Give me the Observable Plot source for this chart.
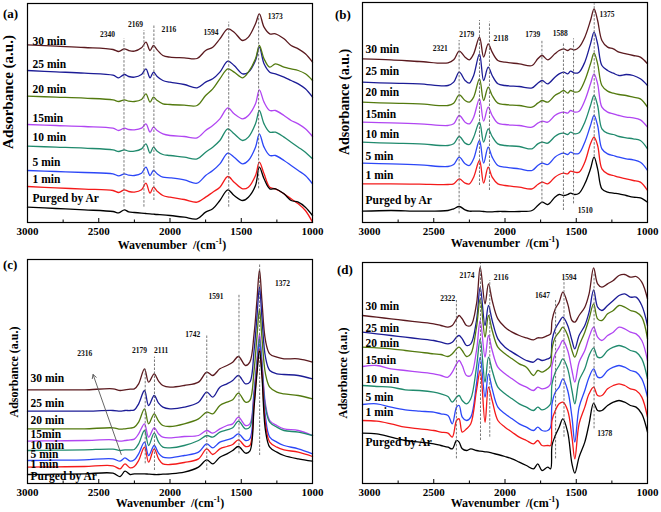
<!DOCTYPE html>
<html><head><meta charset="utf-8">
<script src="https://cdn.jsdelivr.net/npm/d3@7"></script>
<script src="https://cdn.jsdelivr.net/npm/@observablehq/plot@0.6"></script>
<style>
body{margin:0;background:#fff;}
#fig{position:relative;width:661px;height:512px;background:#fff;overflow:hidden;}
#fig svg{position:absolute;}
</style></head><body><div id="fig"></div>
<script>
const seriesNames = ["30 min","25 min","20 min","15min","10 min","5 min","1 min","Purged by Ar"];
const seriesColors = ["#5b1a1f","#1c1c96","#537a0f","#b146f2","#208a6d","#2c47f7","#f41a1a","#000000"];
const xTicksMajor = [3000,2500,2000,1500,1000];
const xTicksMinor = [2750,2250,1750,1250];

// ---- panel (a)
const wnA = [3000,2800,2600,2400,2360,2320,2290,2250,2200,2169,2140,2116,2090,2050,2000,1900,1810,1750,1700,1650,1594,1550,1490,1450,1400,1373,1340,1300,1260,1200,1150,1100,1050,1000];
const a30 = [533,529,525,519,513,521,516,514,524,541,516,531,518,501,496,494,492,516,526,551,581,571,546,556,596,626,586,566,566,551,531,521,506,481];
const a25 = [456,452,448,442,434,444,438,436,444,461,434,451,438,426,421,414,404,421,431,451,484,471,446,451,486,526,476,451,446,436,426,416,401,376];
const a20 = [379,376,373,368,363,368,364,363,369,386,361,376,366,356,354,352,351,381,401,431,461,451,434,451,491,531,491,466,476,466,461,456,446,426];
const a15 = [294,291,288,283,276,283,279,278,283,296,271,286,276,266,261,258,254,276,291,311,344,326,311,321,356,398,361,336,336,321,306,296,281,258];
const a10 = [229,226,223,218,213,218,214,214,221,236,208,226,214,204,201,196,191,211,226,246,281,266,246,256,296,336,296,271,271,256,241,226,211,191];
const a5  = [156,153,150,146,140,146,142,141,148,166,141,156,146,136,134,128,118,141,156,176,208,196,176,186,226,266,226,201,201,186,171,156,141,116];
const a1  = [108,104,100,96,90,98,93,91,98,118,88,106,94,81,76,69,61,76,91,106,138,121,101,106,141,181,146,106,101,86,71,56,36,1];
const a0  = [46,42,38,33,29,38,32,30,28,27,26,25,24,23,21,16,11,31,41,66,98,81,66,76,111,166,131,101,101,86,66,61,46,21];
const linesA = [2323,2183,2113,1588,1378];
const linesATop = [551,576,591,601,621];
const linesABot = [46,46,66,46,101];
const peakTextA = ["2340","2169","2116","1594","1373"];

// ---- panel (b)
const wnB = [3000,2800,2600,2400,2360,2321,2280,2250,2220,2179,2150,2118,2090,2050,2000,1900,1810,1770,1739,1700,1650,1620,1588,1560,1540,1510,1480,1440,1400,1375,1350,1320,1280,1240,1200,1150,1100,1050,1000];
const b30 = [491,488,483,479,488,514,496,488,506,556,496,536,511,486,481,476,471,491,501,488,506,516,521,516,521,518,526,556,606,641,606,546,526,521,511,506,501,496,476];
const b25 = [421,418,416,411,421,451,426,418,441,506,426,466,441,416,411,408,404,418,426,416,436,446,451,446,454,448,451,481,536,571,536,471,456,448,441,444,441,431,411];
const b20 = [361,358,356,351,358,383,366,361,376,431,366,406,381,358,354,351,346,358,366,361,381,388,396,388,396,391,394,426,476,508,476,411,394,388,384,381,376,371,346];
const b15 = [301,299,296,291,296,321,301,296,316,371,304,346,321,298,294,291,286,298,304,301,321,328,331,328,336,331,334,366,416,446,416,346,331,326,321,316,314,308,286];
const b10 = [241,238,236,231,236,258,238,234,256,301,241,281,258,236,231,228,221,236,241,238,258,266,268,264,271,266,269,301,351,381,351,281,268,264,258,254,251,246,221];
const b5  = [178,176,173,168,174,196,176,171,191,246,178,226,196,171,166,161,156,171,178,174,196,204,208,204,211,206,208,241,291,321,291,221,206,201,196,191,188,181,156];
const b1  = [116,116,115,114,116,131,118,116,136,186,118,166,136,116,111,106,101,114,121,116,136,144,148,146,154,151,151,181,236,256,231,161,146,141,136,131,126,121,96];
const b0  = [34,36,34,36,41,48,38,34,34,34,33,32,32,33,33,33,36,51,61,54,76,84,81,84,88,84,88,116,161,196,161,101,91,88,86,81,76,74,61];
const linesB = [2322,2179,2109,1741,1590,1519,1374];
const linesBTop = [546,606,601,546,536,551,656];
const linesBBot = [26,111,96,56,36,56,196];
const peakTextB = ["2321","2179","2118","1739","1588","1375","1510"];

// ---- panel (c)
const wnC = [3000,2800,2600,2400,2350,2316,2280,2250,2220,2179,2150,2111,2080,2050,2000,1900,1800,1742,1700,1650,1600,1560,1520,1470,1440,1410,1390,1372,1355,1330,1300,1250,1200,1100,1000];
const c30 = [281,281,281,284,279,281,283,284,299,344,304,329,307,294,289,294,304,334,324,344,354,364,381,354,364,449,549,641,549,429,389,379,374,374,364];
const c25 = [217,217,217,219,217,219,219,221,239,279,234,264,241,229,224,229,244,274,259,289,299,309,324,299,304,399,499,589,499,379,339,329,327,324,314];
const c20 = [164,164,164,167,163,164,166,169,184,224,179,209,187,174,171,179,194,214,209,234,244,251,271,244,249,339,439,524,439,329,289,274,269,264,254];
const c15 = [127,128,129,131,127,129,131,133,149,179,139,167,149,139,137,141,144,159,151,164,174,179,199,174,179,279,369,449,369,239,189,174,164,159,144];
const c10 = [99,100,101,103,99,101,101,102,119,159,114,151,124,109,107,114,129,144,139,154,161,167,187,164,169,269,359,434,359,229,184,169,159,154,144];
const c5  = [69,70,71,74,67,77,67,71,89,124,84,114,91,79,77,84,94,119,107,124,131,137,149,129,134,259,349,419,349,199,139,124,114,104,89];
const c1  = [49,50,51,53,44,59,47,51,69,109,64,104,74,59,57,63,74,104,87,104,111,117,131,111,114,239,339,404,334,179,124,109,101,94,81];
const c0  = [27,28,29,31,21,37,27,29,29,29,28,27,27,28,29,34,49,71,59,79,89,99,111,91,97,229,329,399,324,159,109,94,84,74,67];
const linesC = [2174,2109,1742,1516,1371];
const linesCTop = [344,379,444,569,659];
const linesCBot = [59,39,39,89,84];
const peakTextC = ["2316","2179","2111","1742","1591","1372"];

// ---- panel (d)
const wnD = [3000,2900,2800,2700,2600,2500,2450,2400,2370,2340,2322,2300,2270,2240,2200,2174,2140,2116,2090,2050,2000,1950,1900,1850,1800,1770,1740,1700,1680,1670,1647,1620,1594,1560,1530,1510,1480,1440,1410,1378,1350,1320,1280,1240,1200,1160,1120,1080,1040,1000];
const d30 = [504,499,494,489,484,479,474,469,474,494,504,494,474,474,539,649,539,599,549,494,469,454,444,437,431,437,437,444,449,489,524,544,574,539,489,484,504,529,569,647,599,589,599,609,624,627,619,621,604,554];
const d25 = [454,449,444,439,434,429,424,419,424,439,444,434,414,419,489,589,474,534,489,434,409,394,381,369,364,374,369,374,379,429,464,484,499,474,429,404,444,474,514,581,529,519,534,549,564,569,559,559,534,474];
const d20 = [409,407,404,399,394,389,387,381,389,404,409,399,381,389,469,554,439,504,459,409,389,374,359,349,324,339,334,344,354,404,439,454,469,444,399,379,414,454,494,539,494,489,509,519,534,529,519,514,499,434];
const d15 = [351,354,344,339,334,329,324,319,334,359,369,354,324,324,399,489,379,444,399,349,329,314,299,289,279,289,284,289,299,354,389,409,429,399,339,304,364,399,439,469,439,429,444,454,469,464,454,449,429,369];
const d10 = [294,291,289,281,279,274,269,261,244,259,264,249,239,254,349,434,304,379,339,289,269,254,239,229,219,229,221,229,239,299,334,354,374,344,279,239,309,344,384,407,379,379,399,409,414,409,399,394,374,314];
const d5  = [237,239,229,221,217,214,209,204,179,229,234,199,189,199,299,379,259,329,284,229,209,194,179,169,159,169,159,159,169,239,274,289,314,279,199,124,229,279,319,344,319,319,339,349,354,349,339,334,314,259];
const d1  = [189,187,179,169,164,159,154,151,139,189,194,154,164,179,279,339,184,289,249,189,169,154,139,129,119,129,114,114,114,189,219,239,244,219,139,74,179,229,269,289,264,264,284,294,299,294,284,279,259,199];
const d0  = [151,149,139,129,124,119,114,109,104,129,124,104,99,104,99,97,95,94,91,87,81,74,64,54,44,59,39,49,44,114,144,169,194,154,59,31,79,124,179,241,219,219,234,244,249,244,234,229,209,154];
const linesD = [2341,2172,2107,1645,1586,1375];
const linesDTop = [549,659,609,549,609,629];
const linesDBot = [74,129,139,74,139,164];
const peakTextD = ["2322","2174","2116","1647","1594","1378"];

const SERIF = "'Liberation Serif','Times New Roman',serif";

const panels = [
  {id:"(a)", grid:wnA, series:[a30,a25,a20,a15,a10,a5,a1,a0], lines:linesA, lTop:linesATop, lBot:linesABot,
   ptext:peakTextA, plx:[2438,2242,2008,1712,1261], ply:[564,594,578,571,618],
   left:0, top:0, width:330, height:252, ml:27, mr:18, mt:3, mb:30, yMax:657,
   labelDy:[-4,-6,-7,-6,-9,-8,-7,-9], labelDx:5, firstTickDx:0,
   letter:[3,18], ytitle:[8,92,15], xtitle:[172,249]},
  {id:"(b)", grid:wnB, series:[b30,b25,b20,b15,b10,b5,b1,b0], lines:linesB, lTop:linesBTop, lBot:linesBBot,
   ptext:peakTextB, plx:[2455,2268,2029,1805,1613,1285,1437], ply:[521,564,553,563,568,624,36],
   left:330, top:0, width:331, height:252, ml:32, mr:14, mt:2, mb:30, yMax:660,
   labelDy:[-10,-11,-10,-8,-8,-7,-9,-11], labelDx:3, firstTickDx:7,
   letter:[5,19], ytitle:[14,102,14], xtitle:[175,247]},
  {id:"(c)", grid:wnC, series:[c30,c25,c20,c15,c10,c5,c1,c0], lines:linesC, lTop:linesCTop, lBot:linesCBot,
   ptext:peakTextC, plx:[2599,2214,2062,1840,1677,1210], ply:[389,399,399,447,561,599],
   arrow:{x1:2342,y1:87,x2:2540,y2:327},
   left:0, top:250, width:330, height:262, ml:27, mr:18, mt:9, mb:29, yMax:672,
   labelDy:[-12,-8,-9,-7,-5,-6,-3,2], labelDx:3, firstTickDx:0,
   letter:[3,19], ytitle:[14,122,12], xtitle:[170,257]},
  {id:"(d)", grid:wnD, series:[d30,d25,d20,d15,d10,d5,d1,d0], lines:linesD, lTop:linesDTop, lBot:linesDBot,
   ptext:peakTextD, plx:[2402,2266,2027,1736,1551,1300], ply:[554,624,619,564,619,149],
   left:330, top:250, width:331, height:262, ml:32, mr:14, mt:12, mb:29, yMax:663,
   labelDy:[-9,-4,-4,-6,-6,-7,-8,9], labelDx:3, firstTickDx:7,
   letter:[7,24], ytitle:[13,123,12], xtitle:[175,257]}
];

const fig = document.getElementById("fig");

for (const p of panels) {
  const rows = [];
  p.series.forEach((vals, i) => vals.forEach((v, j) => rows.push({w: p.grid[j], v, s: seriesNames[i]})));
  const fh = p.height - p.mt - p.mb;
  const pxY = p.yMax / fh;
  const peakLines = p.lines.map((w, i) => ({w, top: p.lTop[i], bot: p.lBot[i]}));
  const peakLabels = p.ptext.map((t, i) => ({t, x: p.plx[i], y: p.ply[i]}));
  const marks = [
    Plot.line(rows, {x: "w", y: "v", z: "s", stroke: "s", strokeWidth: 1.3, curve: "catmull-rom"}),
    Plot.ruleX(peakLines, {x: "w", y1: "bot", y2: "top", stroke: "#6a6a6a", strokeWidth: 0.9, strokeDasharray: "2.5,1.5"}),
    Plot.text(peakLabels, {x: "x", y: "y", text: "t", fontSize: 7.5, fill: "#111"}),
    ...p.series.map((vals, i) => Plot.text([{w: p.grid[0], v: vals[0], s: seriesNames[i]}],
        {x: "w", y: "v", text: "s", dx: p.labelDx, dy: p.labelDy[i], textAnchor: "start", fontSize: 11.5, fill: "#000"})),
    Plot.ruleX(xTicksMajor, {x: d => d, y1: 0, y2: 4 * pxY, stroke: "#000", strokeWidth: 1}),
    Plot.ruleX(xTicksMinor, {x: d => d, y1: 0, y2: 2.5 * pxY, stroke: "#000", strokeWidth: 1}),
    Plot.frame({stroke: "#000", strokeWidth: 1.2}),
    Plot.axisX({ticks: xTicksMajor, tickSize: 0, tickPadding: 5, tickFormat: d => String(d), label: null, fontSize: 11})
  ];
  if (p.arrow) {
    marks.push(Plot.arrow([p.arrow], {x1: "x1", y1: "y1", x2: "x2", y2: "y2", stroke: "#555", strokeWidth: 0.9, headLength: 7}));
  }
  const plot = Plot.plot({
    width: p.width, height: p.height,
    marginLeft: p.ml, marginRight: p.mr, marginTop: p.mt, marginBottom: p.mb,
    x: {domain: [3000, 1000]},
    y: {domain: [0, p.yMax], axis: null},
    color: {domain: seriesNames, range: seriesColors},
    style: {fontFamily: SERIF, fontWeight: "bold", fontSize: "11px", background: "transparent", overflow: "visible", maxWidth: "none"},
    marks
  });
  plot.style.left = p.left + "px";
  plot.style.top = p.top + "px";
  fig.appendChild(plot);
  const svg = d3.select(plot);
  if (p.firstTickDx) {
    svg.selectAll('g[aria-label="x-axis tick label"] text').filter((d, i) => i === 0).attr("dx", p.firstTickDx);
  }
  svg.append("text").attr("x", p.letter[0]).attr("y", p.letter[1]).attr("text-anchor", "start")
    .attr("font-family", SERIF).attr("font-weight", "bold").attr("font-size", 13).text(p.id);
  svg.append("text").attr("transform", `translate(${p.ytitle[0]},${p.ytitle[1]}) rotate(-90)`)
    .attr("text-anchor", "middle").attr("dy", "0.35em")
    .attr("font-family", SERIF).attr("font-weight", "bold").attr("font-size", p.ytitle[2]).text("Adsorbance (a.u.)");
  const xt = svg.append("text").attr("x", p.xtitle[0]).attr("y", p.xtitle[1]).attr("text-anchor", "middle")
    .attr("font-family", SERIF).attr("font-weight", "bold").attr("font-size", 12);
  xt.append("tspan").text("Wavenumber\u00a0 /(cm");
  xt.append("tspan").attr("dy", -5).attr("font-size", 8).text("-1");
  xt.append("tspan").attr("dy", 5).text(")");
}
</script></body></html>
